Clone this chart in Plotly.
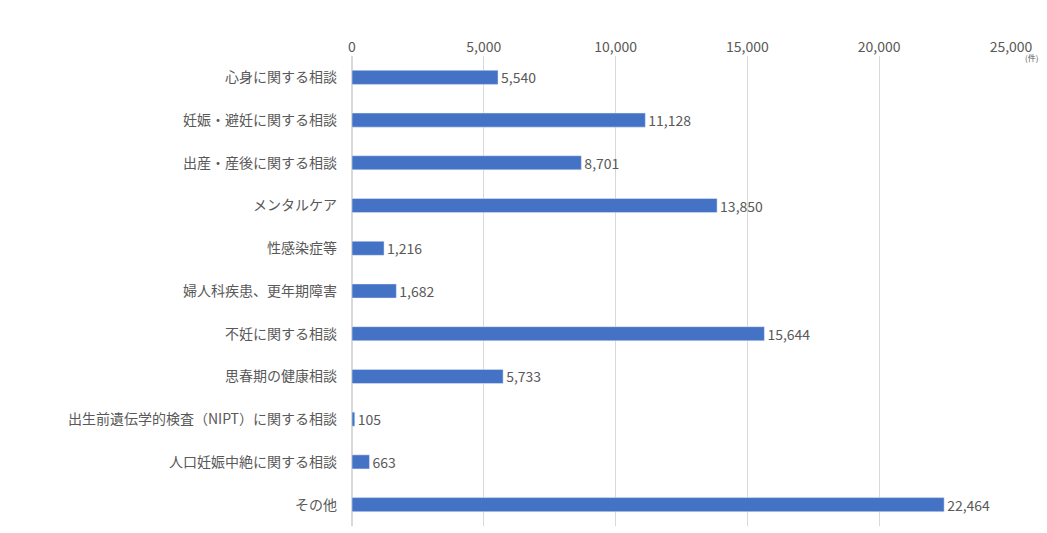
import plotly.graph_objects as go

categories = ["心身に関する相談", "妊娠・避妊に関する相談", "出産・産後に関する相談", "メンタルケア",
              "性感染症等", "婦人科疾患、更年期障害", "不妊に関する相談", "思春期の健康相談",
              "出生前遺伝学的検査（NIPT）に関する相談", "人口妊娠中絶に関する相談", "その他"]
values = [5540, 11128, 8701, 13850, 1216, 1682, 15644, 5733, 105, 663, 22464]
tick_vals = [0, 5000, 10000, 15000, 20000, 25000]
tick_text = ["0", "5,000", "10,000", "15,000", "20,000", "25,000"]

fig = go.Figure(go.Bar(
    x=values, y=categories, orientation="h",
    marker_color="#4472C4",
    text=[f"{v:,}" for v in values], textposition="outside", constraintext="none",
    textfont=dict(size=14, color="#595959"), cliponaxis=False,
))
fig.update_layout(
    width=1047, height=533, plot_bgcolor="white", paper_bgcolor="white",
    margin=dict(l=344, r=44, t=48, b=15),
    bargap=0.67, showlegend=False, uniformtext=dict(minsize=14),
    font=dict(family="Noto Sans CJK JP", size=14, color="#595959"),
    xaxis=dict(range=[0, 25000], side="top", tickvals=tick_vals, ticktext=tick_text,
               showgrid=True, gridcolor="#D9D9D9", zeroline=True, zerolinecolor="#D9D9D9",
               automargin=False, tickfont=dict(size=14, color="#595959")),
    yaxis=dict(autorange="reversed", ticks="", ticklabelstandoff=14, automargin=False,
               tickfont=dict(size=14, color="#595959")),
    annotations=[dict(text="(件)", x=1.0, y=1.0, xref="paper", yref="paper",
                      xanchor="left", yanchor="top", showarrow=False,
                      xshift=12, yshift=6, font=dict(size=8, color="#595959"))],
)
fig.write_html("out.html")
